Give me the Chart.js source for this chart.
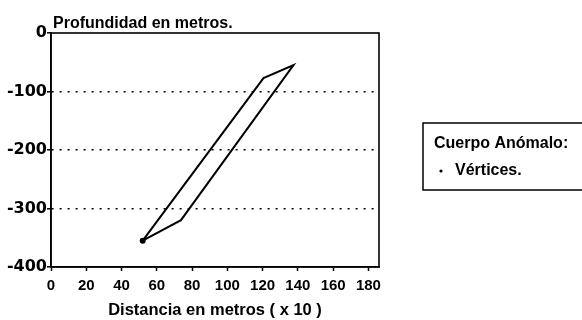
<!DOCTYPE html>
<html>
<head>
<meta charset="utf-8">
<script src="https://cdn.jsdelivr.net/npm/chart.js@4.4.1/dist/chart.umd.min.js"></script>
<style>
	html, body { margin: 0; padding: 0; background: #fff; }
	#wrap { width: 582px; height: 320px; }
</style>
</head>
<body>
<div id="wrap"><canvas id="chart" width="582" height="320"></canvas></div>
<script>
	// polygon vertices of the anomalous body (closed outline)
	const vertexX = [52, 120.5, 137.5, 73.7, 52];
	const vertexY = [-355, -77, -55, -320, -355];

	const xTickValues = [0, 20, 40, 60, 80, 100, 120, 140, 160, 180];
	const yTickValues = [0, -100, -200, -300, -400];

	const yTitle = "Profundidad en metros.";
	const xTitle = "Distancia en metros ( x 10 )";
	const legendTitle = "Cuerpo Anómalo:";
	const legendLabels = ["Vértices."];

	const points = vertexX.map((x, i) => ({ x, y: vertexY[i] }));

	const decor = {
		id: "decor",
		afterDraw(chart) {
			const { ctx, chartArea } = chart;
			ctx.save();
			// frame around plot
			ctx.strokeStyle = "#000";
			ctx.lineWidth = 1.6;
			ctx.strokeRect(chartArea.left, chartArea.top, chartArea.right - chartArea.left, chartArea.bottom - chartArea.top);

			// y title above the plot
			ctx.fillStyle = "#000";
			ctx.font = "bold 16px 'Liberation Sans', Arial, sans-serif";
			ctx.textBaseline = "alphabetic";
			ctx.textAlign = "left";
			ctx.fillText(yTitle, 53, 28);

			// legend box
			ctx.lineWidth = 1.5;
			ctx.strokeRect(423, 123, 170, 67);
			ctx.fillText(legendTitle, 434, 148);
			legendLabels.forEach((lbl, i) => {
				const y = 175 + i * 26;
				ctx.beginPath();
				ctx.arc(441, y - 4, 1.6, 0, Math.PI * 2);
				ctx.fill();
				ctx.fillText(lbl, 455, y);
			});
			ctx.restore();
		}
	};

	new Chart(document.getElementById("chart"), {
		type: "scatter",
		data: {
			datasets: [{
				label: legendLabels[0],
				data: points,
				showLine: true,
				borderColor: "#000",
				backgroundColor: "#000",
				borderWidth: 2,
				pointRadius: c => c.dataIndex === 0 ? 2 : 0,
				pointHoverRadius: c => c.dataIndex === 0 ? 2 : 0,
				tension: 0
			}]
		},
		options: {
			responsive: false,
			animation: false,
			layout: { padding: { top: 33, right: 203, bottom: 0, left: 0 } },
			plugins: {
				legend: { display: false },
				tooltip: { enabled: false }
			},
			scales: {
				x: {
					type: "linear",
					min: 0,
					max: 186,
					afterBuildTicks: s => { s.ticks = xTickValues.map(v => ({ value: v })); },
					afterFit: s => { s.height = 53; },
					grid: {
						drawOnChartArea: false,
						drawTicks: true,
						tickLength: 4,
						tickColor: "#000",
						tickWidth: 1.5
					},
					border: { display: true, color: "#000", width: 1.6 },
					ticks: {
						color: "#000",
						padding: 6,
						maxRotation: 0,
						autoSkip: false,
						font: { family: "'Liberation Sans', Arial, sans-serif", size: 15, weight: "bold" }
					},
					title: {
						display: true,
						text: xTitle,
						color: "#000",
						padding: { top: 0, bottom: 0 },
						font: { family: "'Liberation Sans', Arial, sans-serif", size: 16.5, weight: "bold" }
					}
				},
				y: {
					type: "linear",
					min: -400,
					max: 0,
					afterBuildTicks: s => { s.ticks = yTickValues.map(v => ({ value: v })); },
					afterFit: s => { s.width = 51; },
					grid: {
						drawOnChartArea: true,
						drawTicks: true,
						tickLength: 4,
						tickColor: "#000",
						tickWidth: 1.5,
						lineWidth: 1.6,
						color: ctx => (ctx.tick && (ctx.tick.value === 0 || ctx.tick.value === -400)) ? "rgba(0,0,0,0)" : "#000"
					},
					border: { display: true, color: "#000", width: 1.6, dash: [2, 6] },
					ticks: {
						color: "#000",
						padding: 0,
						autoSkip: false,
						font: { family: "'DejaVu Sans', sans-serif", size: 16, weight: "bold" }
					}
				}
			}
		},
		plugins: [decor]
	});
</script>
</body>
</html>
